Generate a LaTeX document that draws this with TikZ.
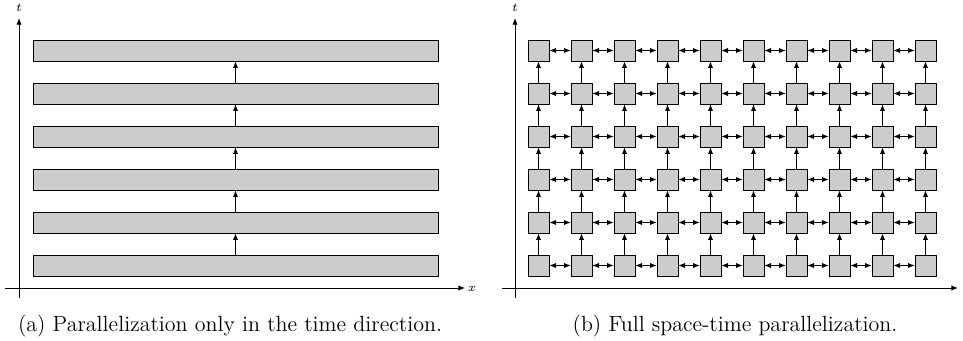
\documentclass[tikz,border=0pt]{standalone}
\usepackage{amsmath}
\usepackage{amssymb}
\usetikzlibrary{arrows.meta}

\begin{document}
\begin{tikzpicture}[x=0.5pt,y=-0.5pt,
  block/.style={draw,fill=gray!40,inner sep=0pt,minimum width=202.5pt,minimum height=10.5pt},
  cell/.style={draw,fill=gray!40,inner sep=0pt,minimum size=10.5pt},
  link/.style={-{Latex[length=3.3pt,width=2.6pt]}},
  both/.style={{Latex[length=3.3pt,width=2.6pt]}-{Latex[length=3.3pt,width=2.6pt]}},
  axlabel/.style={inner sep=0pt,font=\fontsize{6.5}{7}\selectfont},
  caption/.style={anchor=base,font=\fontsize{11}{13}\selectfont}]
\useasboundingbox (0,0) rectangle (963,341);
% (a) parallel in time only
\coordinate (ta0) at (19,298);
\coordinate (ta1) at (19,18);
\coordinate (xa0) at (5,288);
\coordinate (xa1) at (465,288);
\draw[link] (ta0) -- (ta1);
\draw[link] (xa0) -- (xa1);
\node[axlabel] (tla) at (19,8) {$t$};
\node[axlabel] (xla) at (472,289) {$x$};
\foreach \j in {0,...,5}
  \node[block] (bar\j) at (235.5,265.5-43*\j) {};
\foreach \j [evaluate=\j as \k using int(\j+1)] in {0,...,4}
  \draw[link] (bar\j.north) -- (bar\k.south);
\node[caption] (capa) at (230,332) {(a) Parallelization only in the time direction.};
% (b) space-time
\coordinate (tb0) at (515,298);
\coordinate (tb1) at (515,18);
\coordinate (xb0) at (502,288);
\coordinate (xb1) at (958,288);
\draw[link] (tb0) -- (tb1);
\draw[link] (xb0) -- (xb1);
\node[axlabel] (tlb) at (515,8) {$t$};
\foreach \i in {0,...,9}
  \foreach \j in {0,...,5}
    \node[cell] (c\i\j) at (538.5+43*\i,265.5-43*\j) {};
% neighbours in space
\foreach \i in {0,...,8}{
  \pgfmathtruncatemacro\nxt{\i+1}
  \foreach \j in {0,...,5}
    \draw[both] (c\i\j.east) -- (c\nxt\j.west);
}
% neighbours in time
\foreach \i in {0,...,9}{
  \foreach \j in {0,...,4}{
    \pgfmathtruncatemacro\up{\j+1}
    \draw[link] (c\i\j.north) -- (c\i\up.south);
  }
}
\node[caption] (capb) at (735,332) {(b) Full space-time parallelization.};
\end{tikzpicture}
\end{document}
